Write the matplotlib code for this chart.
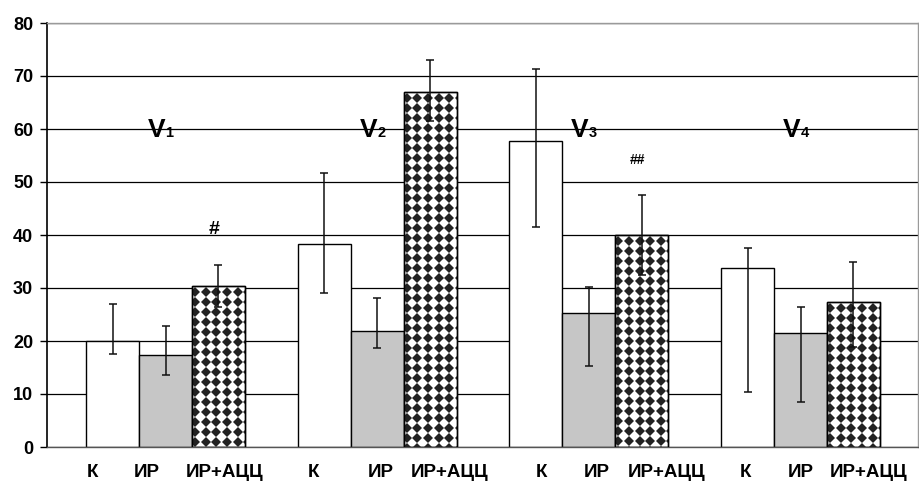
import matplotlib
matplotlib.use("Agg")
import matplotlib.pyplot as plt
import numpy as np

plt.rcParams['font.family'] = ['Liberation Sans', 'DejaVu Sans']
plt.rcParams['font.weight'] = 'bold'

# --- data -------------------------------------------------------------
group_subscripts = ['1', '2', '3', '4']
series_names = ['К', 'ИР', 'ИР+АЦЦ']

k_mean = [20.0, 38.3, 57.7, 33.8]
ir_mean = [17.4, 21.9, 25.3, 21.6]
irac_mean = [30.4, 67.0, 40.0, 27.4]

k_upper = [27.0, 51.7, 71.3, 37.5]
k_lower = [17.5, 29.1, 41.5, 10.4]
ir_upper = [22.9, 28.2, 30.1, 26.5]
ir_lower = [13.5, 18.7, 15.2, 8.5]
irac_upper = [34.4, 73.1, 47.5, 35.0]
irac_lower = [26.5, 61.5, 32.5, 18.8]

irac_marks = ['#', '', '##', '']

y_ticks = [0, 10, 20, 30, 40, 50, 60, 70, 80]

# --- figure -----------------------------------------------------------
W, H = 919, 488
fig = plt.figure(figsize=(W / 100, H / 100), dpi=100)
ax = fig.add_axes([47 / W, 41 / H, (918 - 47) / W, (447 - 23) / H])

means = [k_mean, ir_mean, irac_mean]
uppers = [k_upper, ir_upper, irac_upper]
lowers = [k_lower, ir_lower, irac_lower]
fills = ['white', '#c6c6c6', 'white']

bw = 0.25
gx = np.arange(len(group_subscripts))

ax.set_xlim(-0.56, 3.555)
ax.set_ylim(0, 80)

bar_sets = []
for j in range(3):
    xs = gx + (j - 1) * bw
    bars = ax.bar(xs, means[j], width=bw, color=fills[j], edgecolor='black',
                  linewidth=1.0, zorder=2)
    bar_sets.append((xs, bars))

# diamond pattern for the ИР+АЦЦ bars
xs_p, bars_p = bar_sets[2]
px_x = (918 - 47) / (3.555 + 0.56)   # pixels per x unit
px_y = (447 - 23) / 80.0             # pixels per y unit
pitch_x = 10.6 / px_x
pitch_y = 10.0 / px_y
for rect in bars_p:
    x0 = rect.get_x()
    x1 = x0 + rect.get_width()
    top = rect.get_height()
    cols = np.arange(x0 + 0.3 * pitch_x, x1 + pitch_x, pitch_x)
    rows = np.arange(top - 0.6 * pitch_y, -pitch_y, -pitch_y)
    XX, YY = np.meshgrid(cols, rows)
    pts, = ax.plot(XX.ravel(), YY.ravel(), linestyle='none', marker='D',
                   markersize=4.6, color='#222222', markeredgewidth=0,
                   zorder=2.5)
    pts.set_clip_path(rect)
    # outline on top of the pattern
    ax.add_patch(plt.Rectangle((x0, 0), rect.get_width(), top, fill=False,
                               edgecolor='black', linewidth=1.0, zorder=3))

# error bars
for j in range(3):
    xs = bar_sets[j][0]
    m = np.array(means[j])
    yerr = np.vstack([m - np.array(lowers[j]), np.array(uppers[j]) - m])
    ax.errorbar(xs, m, yerr=yerr, fmt='none', ecolor='#111111',
                elinewidth=1.1, capsize=3, capthick=1.1, zorder=4)

# significance marks above ИР+АЦЦ
for i, mark in enumerate(irac_marks):
    if mark:
        ax.text(xs_p[i] - 0.02, irac_upper[i] + 6.6, mark, ha='center',
                va='center', fontsize=14 if len(mark) == 1 else 10,
                fontweight='bold', zorder=5)

# group titles V1..V4
for i, sub in enumerate(group_subscripts):
    ax.text(gx[i], 58.5, 'V', ha='right', va='baseline', fontsize=19,
            fontweight='bold', zorder=5)
    ax.text(gx[i], 58.5, sub, ha='left', va='baseline', fontsize=10.5,
            fontweight='bold', zorder=5)

# axes styling
ax.set_yticks(y_ticks)
ax.set_yticklabels([str(v) for v in y_ticks], fontsize=13, fontweight='bold')
ax.tick_params(axis='y', length=5, width=1, pad=5, color='black')
ax.yaxis.grid(True, color='black', linewidth=0.9)
ax.set_axisbelow(True)

label_shift = [-0.094, -0.09, 0.028, -0.052, 0.019, 0.09,
               0.028, 0.038, 0.118, -0.009, 0.0, 0.071]
tick_pos = []
tick_lab = []
for i in range(len(gx)):
    for j in range(3):
        tick_pos.append(gx[i] + (j - 1) * bw + label_shift[i * 3 + j])
        tick_lab.append(series_names[j])
ax.set_xticks(tick_pos)
ax.set_xticklabels(tick_lab, fontsize=13.5, fontweight='bold')
ax.tick_params(axis='x', length=0, pad=12)

ax.spines['left'].set_color('black')
ax.spines['left'].set_linewidth(1.2)
for s in ('top', 'right'):
    ax.spines[s].set_color('#9a9a9a')
    ax.spines[s].set_linewidth(1.0)
ax.spines['bottom'].set_color('#555555')
ax.spines['bottom'].set_linewidth(1.0)

fig.savefig('out.png', dpi=100, facecolor='white')
